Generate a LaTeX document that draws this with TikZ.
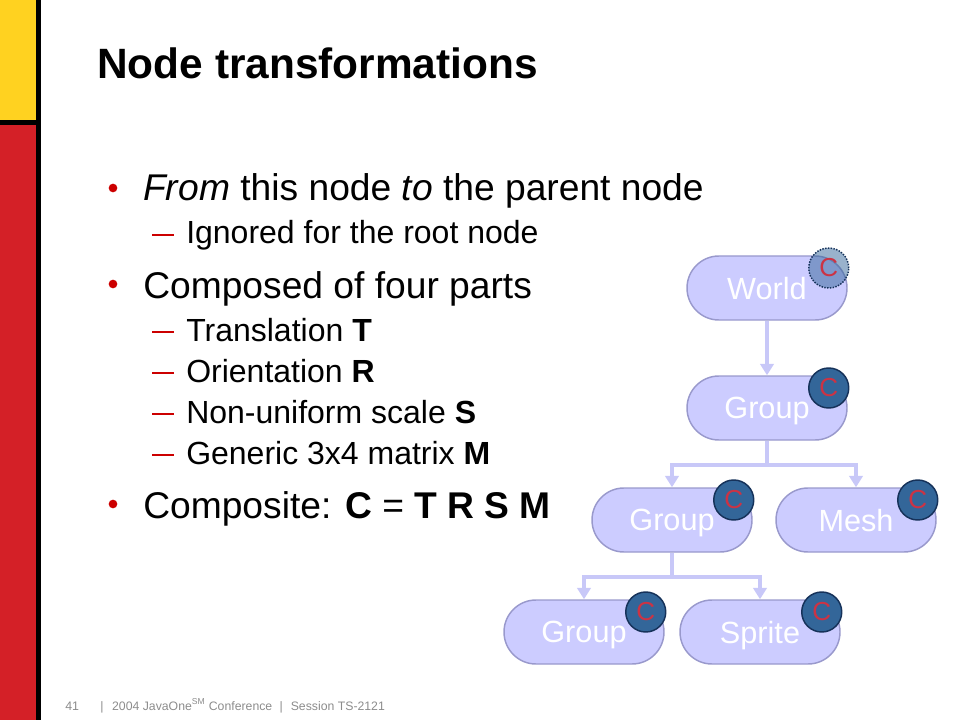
\documentclass[tikz,border=0pt]{standalone}
\usepackage{fontspec}
\setmainfont{Liberation Sans}
\usepackage{tikz}
\usetikzlibrary{arrows.meta,positioning}
\definecolor{barYellow}{RGB}{255,210,32}
\definecolor{barRed}{RGB}{212,32,39}
\definecolor{bulletRed}{RGB}{204,0,0}
\definecolor{nodeFill}{RGB}{204,204,255}
\definecolor{nodeDraw}{RGB}{153,153,204}
\definecolor{linkCol}{RGB}{200,200,248}
\definecolor{compFill}{RGB}{51,102,153}
\definecolor{compDraw}{RGB}{22,50,90}
\definecolor{compText}{RGB}{204,51,68}
\definecolor{footGray}{RGB}{140,140,140}
\tikzstyle{scenenode}=[draw=nodeDraw,fill=nodeFill,line width=1.1pt,rounded corners=24pt,minimum width=120pt,minimum height=48pt,inner sep=0pt,text depth=0pt,text=white,font=\fontsize{23}{23}\selectfont]
\tikzstyle{compbadge}=[circle,draw=compDraw,fill=compFill,line width=1.1pt,minimum size=30pt,inner sep=0pt,text=compText,font=\fontsize{19.5}{19.5}\selectfont]
\tikzstyle{linkarrow}=[draw=linkCol,line width=3pt,-{Triangle[width=10pt,length=8.5pt]}]
\tikzstyle{bulletdot}=[circle,fill=bulletRed,inner sep=0pt,minimum size=6.5pt]
\tikzstyle{dashline}=[draw=bulletRed,line width=1.5pt]
\tikzstyle{lvlone}=[anchor=base west,inner sep=0pt,font=\fontsize{27.9}{30}\selectfont]
\tikzstyle{lvltwo}=[anchor=base west,inner sep=0pt,font=\fontsize{24}{26}\selectfont]

\begin{document}
\begin{tikzpicture}[x=0.75pt,y=-0.75pt]
  \useasboundingbox (0,0) rectangle (960,720);

  \fill[barYellow] (0,0) rectangle (36,120);
  \fill[barRed] (0,125) rectangle (36,720);
  \fill[black] (36,0) rectangle (41,720);
  \fill[black] (0,120) rectangle (41,125);

  \node[anchor=base west,inner sep=0pt,font=\fontsize{31.8}{34}\selectfont\bfseries] (title) at (97,79) {Node transformations};

  \node[bulletdot] (b1) at (113,188) {};
  \node[lvlone] (from) at (143,201) {\textit{From} this node \textit{to} the parent node};
  \draw[dashline] (152,235) -- (174,235);
  \node[lvltwo] (ignored) at (186,244) {Ignored for the root node};

  \node[bulletdot] (b2) at (113,284) {};
  \node[lvlone] (composed) at (143,298) {Composed of four parts};
  \foreach \y/\txt [count=\k] in {341/{Translation \textbf{T}},382/{Orientation \textbf{R}},423/{Non-uniform scale \textbf{S}},464/{Generic 3x4 matrix \textbf{M}}}{
    \draw[dashline] (152,\y-9) -- (174,\y-9);
    \node[lvltwo] (part\k) at (186,\y) {\txt};
  }

  \node[bulletdot] (b3) at (113,504) {};
  \node[lvlone] (composite) at (143,518) {Composite: \textbf{C} = \textbf{T R S M}};

  \node[scenenode] (world) at (767,288) {World};
  \node[scenenode] (grp1) at (767,408) {Group};
  \node[scenenode] (grp2) at (672,520) {Group};
  \node[scenenode] (mesh) at (856,520) {Mesh};
  \node[scenenode] (grp3) at (584,632) {Group};
  \node[scenenode] (sprite) at (760,632) {Sprite};

  \draw[linkarrow] (world) -- (grp1);
  \draw[linkarrow] (grp1.south) -- ++(0,24) -| (grp2.north);
  \draw[linkarrow] (grp1.south) -- ++(0,24) -| (mesh.north);
  \draw[linkarrow] (grp2.south) -- ++(0,24) -| (grp3.north);
  \draw[linkarrow] (grp2.south) -- ++(0,24) -| (sprite.north);

  \node[compbadge,densely dotted,fill opacity=0.5,text opacity=1] (cworld) at ([shift={(-19,-20)}]world.east) {C};
  \foreach \n in {grp1,grp2,mesh,grp3,sprite}
    \node[compbadge] (c\n) at ([shift={(-19,-20)}]\n.east) {C};

  \node[anchor=base west,inner sep=0pt,font=\fontsize{9.3}{10}\selectfont,text=footGray] (pgno) at (65,710) {41};
  \node[anchor=base west,inner sep=0pt,font=\fontsize{9.2}{10}\selectfont,text=footGray] (session) at (100,710) {|\hspace{6.5pt}2004 JavaOne\textsuperscript{SM} Conference\hspace{5.5pt}|\hspace{6pt}Session TS-2121};
\end{tikzpicture}
\end{document}
